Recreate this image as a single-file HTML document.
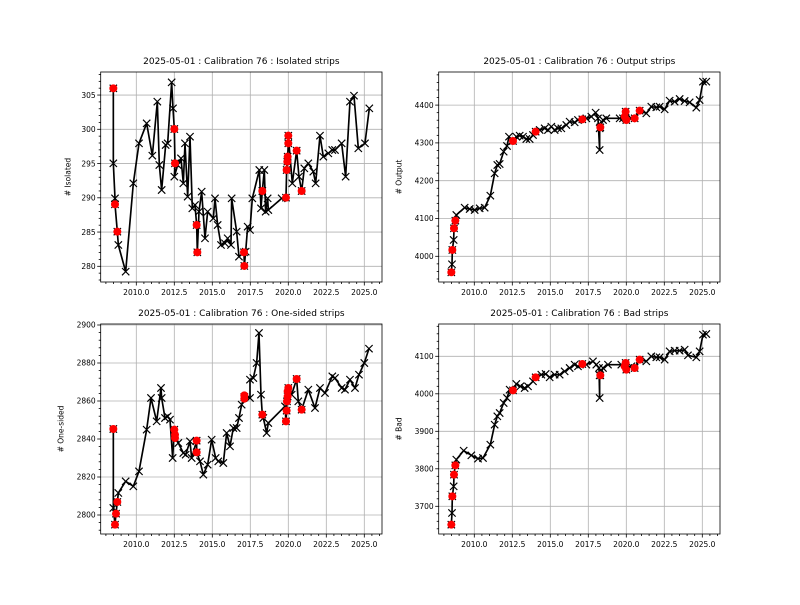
<!DOCTYPE html>
<html><head><meta charset="utf-8"><style>
body{margin:0;background:#fff;}
svg text{font-family:"DejaVu Sans","Liberation Sans",sans-serif;}
</style></head><body>
<svg id="s" width="800" height="600" xmlns="http://www.w3.org/2000/svg"></svg>
<script>
const S=document.getElementById('s');const NS='http://www.w3.org/2000/svg';
function el(t,a,p){const e=document.createElementNS(NS,t);for(const k in a)e.setAttribute(k,a[k]);(p||S).appendChild(e);return e;}
function txt(x,y,s,a,p){const e=el('text',Object.assign({x:x,y:y,'font-size':7.5,fill:'#000'},a||{}),p);e.textContent=s;return e;}
const plots=[
{ox:95,oy:65,L:100.7,R:382,T:72,B:282,title:'2025-05-01 : Calibration 76 : Isolated strips',yl:'# Isolated',
 yt:[280,285,290,295,300,305],y0:266.3,v0:280,ppu:6.85,minor:1,x2010:136.3,
 line:[[55,70],[55,295],[60,400],[60,418],[67,500],[70,540],[92,620],[115,355],[132,235],[155,175],[172,272],[187,110],[193,300],[200,375],[212,240],[218,235],[230,52],[234,130],[238,192],[240,295],[238,335],[248,300],[258,280],[265,355],[270,235],[278,395],[285,215],[292,430],[300,420],[305,480],[307,562],[312,440],[320,380],[330,520],[338,440],[355,460],[360,400],[368,480],[378,540],[390,535],[398,520],[408,540],[410,400],[425,500],[432,575],[447,562],[448,603],[452,560],[458,485],[465,495],[472,400],[493,315],[498,430],[502,378],[508,315],[512,440],[518,400],[520,435],[560,400],[573,398],[575,315],[577,290],[578,275],[580,235],[580,212],[592,355],[605,257],[612,335],[620,378],[628,310],[640,295],[655,320],[662,355],[675,212],[685,275],[700,265],[712,255],[720,255],[740,235],[752,335],[765,110],[777,92],[790,250],[810,235],[823,130]],
 red:[[55,70],[60,418],[67,500],[238,192],[240,295],[305,480],[307,562],[447,562],[448,603],[502,378],[573,398],[575,315],[577,290],[578,275],[580,235],[580,212],[605,257],[620,378]]},
{ox:433,oy:65,L:438.7,R:720,T:72,B:282,title:'2025-05-01 : Calibration 76 : Output strips',yl:'# Output',
 yt:[4000,4100,4200,4300,4400],y0:256.3,v0:4000,ppu:0.378,minor:20,x2010:474.3,
 line:[[55,622],[57,598],[58,555],[62,525],[63,490],[67,467],[70,450],[95,428],[110,432],[125,435],[140,430],[155,428],[172,392],[185,325],[193,300],[200,297],[212,260],[222,243],[228,215],[240,228],[250,215],[260,212],[270,215],[280,222],[290,222],[300,210],[308,200],[320,195],[335,190],[345,195],[355,185],[365,195],[375,190],[385,190],[400,180],[410,170],[425,172],[435,165],[448,163],[460,160],[475,155],[488,143],[495,160],[500,255],[500,190],[502,187],[510,165],[520,160],[560,160],[570,160],[578,140],[580,165],[595,160],[605,160],[620,137],[640,145],[655,125],[670,127],[680,125],[695,133],[710,107],[725,110],[740,102],[755,108],[770,112],[790,128],[800,105],[810,50],[820,50]],
 red:[[55,622],[58,555],[63,490],[67,467],[240,228],[308,200],[448,163],[502,187],[578,140],[580,165],[575,155],[605,160],[620,137]]},
{ox:95,oy:318,L:100.7,R:382,T:324,B:534,title:'2025-05-01 : Calibration 76 : One-sided strips',yl:'# One-sided',
 yt:[2800,2820,2840,2860,2880,2900],y0:515,v0:2800,ppu:1.9,minor:4,x2010:136.3,
 line:[[55,333],[55,570],[60,620],[63,587],[67,552],[70,525],[92,490],[115,505],[132,460],[155,335],[168,240],[185,310],[198,210],[200,240],[210,300],[218,295],[225,305],[233,420],[238,335],[240,360],[250,375],[265,405],[272,410],[285,370],[290,420],[305,368],[305,403],[315,430],[325,470],[338,440],[350,365],[362,420],[370,430],[385,435],[395,345],[405,385],[415,330],[425,330],[432,300],[440,260],[448,237],[465,240],[465,185],[475,180],[485,135],[492,45],[498,230],[502,290],[505,300],[515,345],[520,315],[570,265],[573,310],[575,278],[576,250],[578,235],[580,210],[590,230],[605,183],[610,250],[620,275],[640,215],[660,270],[675,210],[690,225],[712,175],[720,180],[740,210],[750,215],[765,185],[780,210],[792,170],[808,135],[822,92]],
 red:[[55,333],[60,620],[63,587],[67,552],[238,335],[240,350],[240,360],[305,368],[305,403],[448,232],[448,242],[502,290],[573,310],[575,278],[576,250],[578,235],[578,220],[580,210],[605,183],[620,275]]},
{ox:433,oy:318,L:438.7,R:720,T:324,B:534,title:'2025-05-01 : Calibration 76 : Bad strips',yl:'# Bad',
 yt:[3700,3800,3900,4000,4100],y0:506.3,v0:3700,ppu:0.375,minor:20,x2010:474.3,
 line:[[55,620],[57,585],[58,535],[62,505],[63,470],[67,442],[70,425],[92,398],[115,412],[135,422],[150,420],[172,380],[185,320],[193,295],[200,285],[212,255],[222,240],[230,215],[240,217],[250,198],[262,205],[275,210],[285,205],[300,190],[308,178],[325,170],[338,168],[350,178],[365,170],[380,170],[395,160],[410,150],[425,140],[435,145],[448,138],[460,140],[480,130],[490,140],[498,150],[500,240],[500,172],[502,172],[510,150],[525,140],[565,140],[578,135],[580,155],[595,145],[605,150],[620,125],[640,130],[655,115],[670,118],[680,118],[695,125],[710,100],[725,98],[740,98],[755,95],[765,112],[790,118],[800,100],[810,50],[820,48]],
 red:[[55,620],[58,535],[63,470],[67,442],[240,217],[308,178],[448,138],[502,172],[578,135],[575,145],[580,155],[605,150],[620,125]]}
];
plots.forEach(p=>{
 const g=el('g',{});
 // grid
 const xpx=y=>p.x2010+(y-2010)*15.2;
 const xt=[2010,2012.5,2015,2017.5,2020,2022.5,2025];
 xt.forEach(v=>{const x=xpx(v);el('line',{x1:x,x2:x,y1:p.T,y2:p.B,stroke:'#b0b0b0','stroke-width':0.8},g);});
 p.yt.forEach(v=>{const y=p.y0-(v-p.v0)*p.ppu;el('line',{x1:p.L,x2:p.R,y1:y,y2:y,stroke:'#b0b0b0','stroke-width':0.8},g);});
 // data
 const d=el('g',{transform:`translate(${p.ox},${p.oy}) scale(0.3333)`},g);
 el('polyline',{points:p.line.map(a=>a.join(',')).join(' '),fill:'none',stroke:'#000','stroke-width':5,'stroke-linejoin':'round'},d);
 p.line.forEach(([x,y])=>{el('path',{d:`M${x-11},${y-11}L${x+11},${y+11}M${x-11},${y+11}L${x+11},${y-11}`,stroke:'#000','stroke-width':3.5},d);});
 p.red.forEach(([x,y])=>{el('circle',{cx:x,cy:y,r:12,fill:'#ff0000'},d);});
 // frame
 el('rect',{x:p.L,y:p.T,width:p.R-p.L,height:p.B-p.T,fill:'none',stroke:'#000','stroke-width':0.8},g);
 // x ticks
 for(let v=2007.5;v<=2026.2;v+=0.5){const x=xpx(v);if(x<p.L||x>p.R)continue;const maj=xt.includes(v);
  el('line',{x1:x,x2:x,y1:p.B,y2:p.B+(maj?3.5:2),stroke:'#000','stroke-width':0.8},g);
  if(maj)txt(x,p.B+13,v.toFixed(1),{'text-anchor':'middle'},g);}
 // y ticks
 for(let v=p.v0-p.minor*10;v<=p.yt[p.yt.length-1]+p.minor*10;v+=p.minor){const y=p.y0-(v-p.v0)*p.ppu;if(y<p.T||y>p.B)continue;const maj=p.yt.includes(v);
  el('line',{x1:p.L,x2:p.L-(maj?3.5:2),y1:y,y2:y,stroke:'#000','stroke-width':0.8},g);
  if(maj)txt(p.L-5,y+2.7,String(v),{'text-anchor':'end'},g);}
 txt((p.L+p.R)/2,p.T-8,p.title,{'text-anchor':'middle','font-size':9},g);
 const yx=p.L-(p.yt[0]>=1000?37:30),yy=(p.T+p.B)/2;
 txt(yx,yy,p.yl,{'text-anchor':'middle',transform:`rotate(-90 ${yx} ${yy})`},g);
});
</script>
</body></html>
